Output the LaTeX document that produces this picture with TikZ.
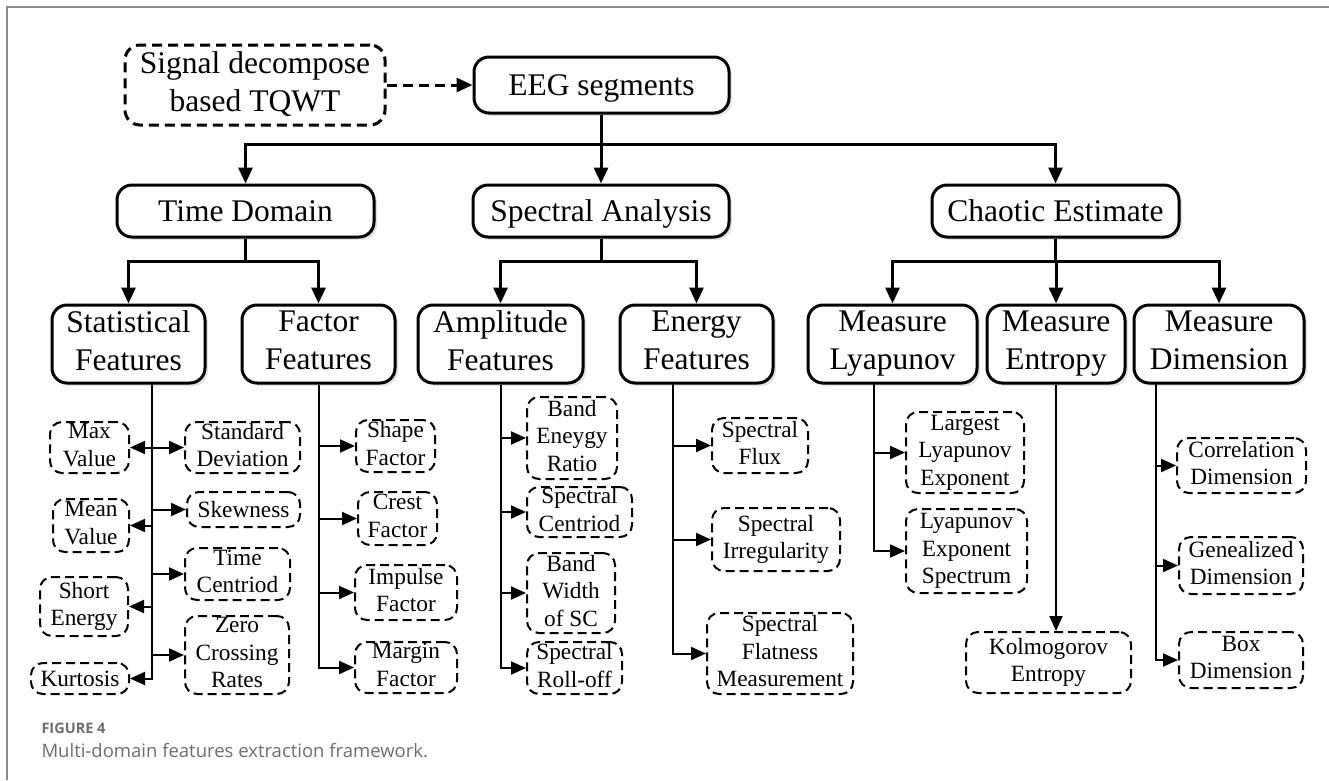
\documentclass[tikz,border=0pt]{standalone}
\usepackage{fontspec}
\setmainfont{Liberation Serif}
\newfontfamily\capfont{Open Sans}
\usetikzlibrary{arrows.meta,shadows}
\definecolor{capgray}{HTML}{6E6E6E}
\definecolor{framegray}{HTML}{8C8C8C}
\newcommand\mainboxfont{\fontsize{31.5}{38}\selectfont}
\newcommand\leaffont{\fontsize{23.3}{27.5}\selectfont}
\tikzset{
  even text/.style={execute at begin node=\rule{0pt}{0.9em},
    execute at end node=\rule[-0.22em]{0pt}{0pt}},
  mainbox/.style={draw, line width=3, rounded corners=15, fill=white, align=center, inner sep=0,
    font=\mainboxfont, even text, drop shadow={shadow xshift=3pt, shadow yshift=-3pt, fill=black!22}},
  sigbox/.style={draw, line width=3, dash pattern=on 10pt off 6pt, rounded corners=15,
    align=center, inner sep=0, font=\mainboxfont, even text},
  leaf/.style={draw, line width=2, dash pattern=on 9pt off 5pt, rounded corners=12,
    align=center, inner sep=0, font=\leaffont, even text},
  bigline/.style={line width=3},
  bigarrow/.style={line width=3, -{Triangle[length=16pt,width=14pt]}},
  leafarrow/.style={line width=2, -{Triangle[length=15pt,width=13pt]}},
}
\begin{document}
\begin{tikzpicture}[x=1pt,y=-1pt]
	\useasboundingbox (0,0) rectangle (1329,780);
	\draw[framegray, line width=2] (7,780) -- (7,7) -- (1329,7);
	% top rows
	\node[sigbox, minimum width=260, minimum height=80] (sig) at (255,85) {Signal decompose\\based TQWT};
	\node[mainbox, minimum width=255, minimum height=56] (eeg) at (601.5,85) {EEG segments};
	\node[mainbox, minimum width=257, minimum height=52] (time) at (245.5,211) {Time Domain};
	\node[mainbox, minimum width=256, minimum height=52] (spec) at (601,211) {Spectral Analysis};
	\node[mainbox, minimum width=247, minimum height=52] (chaos) at (1055.5,211) {Chaotic Estimate};
	\node[mainbox, minimum width=153, minimum height=78] (stat) at (128.5,344) {Statistical\\Features};
	\node[mainbox, minimum width=153, minimum height=78] (fact) at (318.5,344) {Factor\\Features};
	\node[mainbox, minimum width=165, minimum height=78] (ampl) at (500.5,344) {Amplitude\\Features};
	\node[mainbox, minimum width=153, minimum height=78] (ener) at (696.5,344) {Energy\\Features};
	\node[mainbox, minimum width=169, minimum height=78] (lyap) at (892.5,344) {Measure\\Lyapunov};
	\node[mainbox, minimum width=138, minimum height=78] (entr) at (1056,344) {Measure\\Entropy};
	\node[mainbox, minimum width=170, minimum height=78] (dime) at (1219,344) {Measure\\Dimension};
	\draw[bigarrow, dash pattern=on 10pt off 6pt] (sig) -- (eeg);
	\coordinate (eegbus) at (601.5,144);
	\draw[bigline] (eeg.south) -- (eegbus);
	\foreach \n in {time,spec,chaos}
		\draw[bigarrow] (eegbus) -| (\n.north);
	\coordinate (timebus) at (245.5,261);
	\coordinate (specbus) at (601,261);
	\coordinate (chaosbus) at (1055.5,261);
	\draw[bigline] (time.south) -- (timebus);
	\draw[bigline] (spec.south) -- (specbus);
	\draw[bigline] (chaos.south) -- (chaosbus);
	\foreach \n in {stat,fact}
		\draw[bigarrow] (timebus) -| (\n.north);
	\foreach \n in {ampl,ener}
		\draw[bigarrow] (specbus) -| (\n.north);
	\foreach \n in {lyap,entr,dime}
		\draw[bigarrow] (chaosbus) -| (\n.north);
	% statistical features
	\node[leaf, minimum width=79, minimum height=51] (maxv) at (89.5,447.5) {Max\\Value};
	\node[leaf, minimum width=76, minimum height=53] (meanv) at (91,525.5) {Mean\\Value};
	\node[leaf, minimum width=88, minimum height=59] (shorte) at (84,606.5) {Short\\Energy};
	\node[leaf, minimum width=98, minimum height=31] (kurt) at (80,678.5) {Kurtosis};
	\node[leaf, minimum width=115, minimum height=51] (stdv) at (242.5,447.5) {Standard\\Deviation};
	\node[leaf, minimum width=113, minimum height=35] (skew) at (243.5,509.5) {Skewness};
	\node[leaf, minimum width=105, minimum height=52] (timec) at (237.5,574) {Time\\Centriod};
	\node[leaf, minimum width=104, minimum height=78] (zero) at (237,655) {Zero\\Crossing\\Rates};
	\coordinate (st) at (152,383);
	\draw[leafarrow] (st) |- (kurt.east);
	\foreach \n in {maxv,meanv,shorte}
		\draw[leafarrow] (st |- \n.east) -- (\n.east);
	\foreach \n in {stdv,skew,timec,zero}
		\draw[leafarrow] (st |- \n.west) -- (\n.west);
	% factor features
	\node[leaf, minimum width=79, minimum height=52] (shapef) at (395.5,446) {Shape\\Factor};
	\node[leaf, minimum width=79, minimum height=53] (crestf) at (397.5,518.5) {Crest\\Factor};
	\node[leaf, minimum width=102, minimum height=55] (impf) at (406,592.5) {Impulse\\Factor};
	\node[leaf, minimum width=102, minimum height=51] (marf) at (406,667.5) {Margin\\Factor};
	\draw[leafarrow] (fact.south) |- (marf.west);
	\foreach \n in {shapef,crestf,impf}
		\draw[leafarrow] (fact.south |- \n.west) -- (\n.west);
	% amplitude features
	\node[leaf, minimum width=90, minimum height=82] (bandr) at (572,438) {Band\\Eneygy\\Ratio};
	\node[leaf, minimum width=105, minimum height=50] (specc) at (579.5,512) {Spectral\\Centriod};
	\node[leaf, minimum width=88, minimum height=80] (bandw) at (571,593) {Band\\Width\\of SC};
	\node[leaf, minimum width=95, minimum height=52] (rolloff) at (574.5,668) {Spectral\\Roll-off};
	\draw[leafarrow] (ampl.south) |- (rolloff.west);
	\foreach \n in {bandr,specc,bandw}
		\draw[leafarrow] (ampl.south |- \n.west) -- (\n.west);
	% energy features
	\node[leaf, minimum width=96, minimum height=55] (flux) at (760,445.5) {Spectral\\Flux};
	\node[leaf, minimum width=128, minimum height=63] (irreg) at (776,539.5) {Spectral\\Irregularity};
	\node[leaf, minimum width=146, minimum height=81] (flat) at (780,653.5) {Spectral\\Flatness\\Measurement};
	\coordinate (et) at (673,383);
	\draw[leafarrow] (et) |- (flat.west);
	\foreach \n in {flux,irreg}
		\draw[leafarrow] (et |- \n.west) -- (\n.west);
	% chaotic measures
	\node[leaf, minimum width=118, minimum height=81] (largest) at (965,452.5) {Largest\\Lyapunov\\Exponent};
	\node[leaf, minimum width=121, minimum height=84] (lspec) at (966.5,551) {Lyapunov\\Exponent\\Spectrum};
	\coordinate (lt) at (874,383);
	\draw[leafarrow] (lt) |- (lspec.west);
	\draw[leafarrow] (lt |- largest.west) -- (largest.west);
	\node[leaf, minimum width=165, minimum height=61] (kolmo) at (1048.5,662.5) {Kolmogorov\\Entropy};
	\draw[leafarrow] (entr.south) -- (entr.south |- kolmo.north);
	\node[leaf, minimum width=129, minimum height=55] (corr) at (1241.5,465.5) {Correlation\\Dimension};
	\node[leaf, minimum width=124, minimum height=57] (genl) at (1241,565.5) {Genealized\\Dimension};
	\node[leaf, minimum width=124, minimum height=56] (boxd) at (1241,660) {Box\\Dimension};
	\coordinate (dt) at (1156,383);
	\draw[leafarrow] (dt) |- (boxd.west);
	\foreach \n in {corr,genl}
		\draw[leafarrow] (dt |- \n.west) -- (\n.west);
	% caption
	\node[anchor=west, text=capgray, font=\capfont\fontsize{14.5}{16}\selectfont\bfseries] (fignum) at (38,728) {FIGURE 4};
	\node[anchor=west, text=capgray, font=\capfont\fontsize{18.5}{21}\selectfont] (figcap) at (38,751) {Multi-domain features extraction framework.};
\end{tikzpicture}
\end{document}
